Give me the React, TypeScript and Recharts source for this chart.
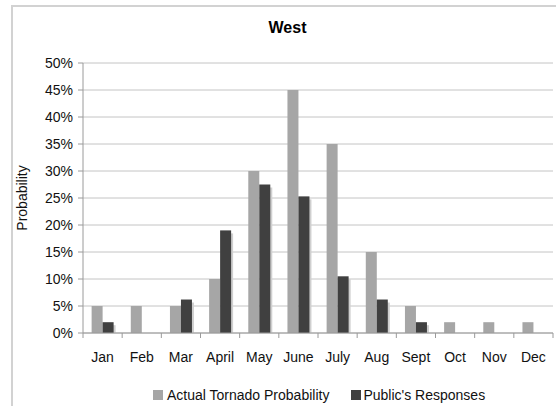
import React from 'react';
import { BarChart, Bar, XAxis, YAxis, CartesianGrid } from 'recharts';

const months = ['Jan', 'Feb', 'Mar', 'April', 'May', 'June', 'July', 'Aug', 'Sept', 'Oct', 'Nov', 'Dec'];
const actual = [0.05, 0.05, 0.05, 0.10, 0.30, 0.45, 0.35, 0.15, 0.05, 0.02, 0.02, 0.02];
const publicResp = [0.02, 0, 0.062, 0.19, 0.275, 0.253, 0.105, 0.062, 0.02, 0, 0, 0];
const yTicks = [0, 0.05, 0.1, 0.15, 0.2, 0.25, 0.3, 0.35, 0.4, 0.45, 0.5];

const LIGHT = '#a6a6a6';
const DARK = '#404040';
const FONT = '"Liberation Sans", Arial, Helvetica, sans-serif';

const data = months.map((m, i) => ({ month: m, actual: actual[i], pub: publicResp[i] }));

const PlainBar = (props: any) => {
  const { x, y, width, height, fill } = props;
  if (!height || height <= 0) return null;
  return <rect x={x} y={y} width={width} height={height} fill={fill} />;
};

const ShadowBar = (props: any) => {
  const { x, y, width, height, fill } = props;
  if (!height || height <= 0) return null;
  return (
    <g>
      <rect x={x + 2} y={y + 3} width={width} height={Math.max(0, height - 3)} fill="#cfcfcf" />
      <rect x={x} y={y} width={width} height={height} fill={fill} />
    </g>
  );
};

const MonthTick = (props: any) => {
  const { x, y, payload, index, visibleTicksCount, width } = props;
  const count = visibleTicksCount || months.length;
  const band = width / count;
  const axisY = 333;
  return (
    <g>
      <line x1={x - band / 2} x2={x - band / 2} y1={axisY} y2={axisY + 5} stroke="#9a9a9a" />
      {index === count - 1 && (
        <line x1={x + band / 2} x2={x + band / 2} y1={axisY} y2={axisY + 5} stroke="#9a9a9a" />
      )}
      <text x={x} y={y} dy="0.71em" textAnchor="middle" fill="#111" fontSize={14} fontFamily={FONT}>
        {payload.value}
      </text>
    </g>
  );
};

export default function App() {
  return (
    <div style={{ position: 'absolute', left: 0, top: 0, width: 556, height: 406, background: '#fff', overflow: 'hidden', fontFamily: FONT }}>
      <div style={{ position: 'absolute', left: 11, top: 5, width: 560, height: 420, border: '2px solid #d2d2d2', boxSizing: 'border-box' }} />
      <div style={{ position: 'absolute', left: 0, width: 575, top: 19, textAlign: 'center', fontWeight: 'bold', fontSize: 16, color: '#000' }}>
        West
      </div>
      <div style={{ position: 'absolute', left: 0, top: 0 }}>
        <BarChart
          width={556}
          height={406}
          data={data}
          margin={{ top: 63, right: 3, left: 0, bottom: 43 }}
          barCategoryGap="22%"
          barGap={0}
        >
          <CartesianGrid vertical={false} stroke="#c4c4c4" />
          <XAxis
            dataKey="month"
            height={30}
            tickLine={false}
            axisLine={{ stroke: '#9a9a9a' }}
            tickSize={5}
            tickMargin={14}
            interval={0}
            tick={<MonthTick />}
          />
          <YAxis
            width={83}
            domain={[0, 0.5]}
            ticks={yTicks}
            interval={0}
            tickFormatter={(v: number) => `${Math.round(v * 100)}%`}
            tick={{ fill: '#111', fontSize: 14, fontFamily: FONT }}
            tickSize={5}
            tickMargin={5}
            tickLine={{ stroke: '#9a9a9a' }}
            axisLine={{ stroke: '#9a9a9a' }}
            label={{
              content: () => (
                <text
                  x={22}
                  y={198}
                  transform="rotate(-90 22 198)"
                  textAnchor="middle"
                  dominantBaseline="central"
                  fontSize={14}
                  fontFamily={FONT}
                  fill="#111"
                >
                  Probability
                </text>
              ),
            }}
          />
          <YAxis
            yAxisId="right"
            orientation="right"
            width={0}
            domain={[0, 0.5]}
            tick={false}
            tickLine={false}
            axisLine={{ stroke: '#9a9a9a' }}
          />
          <Bar dataKey="actual" fill={LIGHT} shape={<PlainBar />} isAnimationActive={false} />
          <Bar dataKey="pub" fill={DARK} shape={<ShadowBar />} isAnimationActive={false} />
        </BarChart>
      </div>
      <div style={{ position: 'absolute', left: 153, top: 387, display: 'flex', alignItems: 'center', fontSize: 14, color: '#111', whiteSpace: 'nowrap' }}>
        <span style={{ display: 'inline-block', width: 10, height: 10, background: LIGHT, marginRight: 4 }} />
        <span style={{ marginRight: 22 }}>Actual Tornado Probability</span>
        <span style={{ display: 'inline-block', width: 10, height: 10, background: DARK, marginRight: 2 }} />
        <span>Public's Responses</span>
      </div>
    </div>
  );
}
